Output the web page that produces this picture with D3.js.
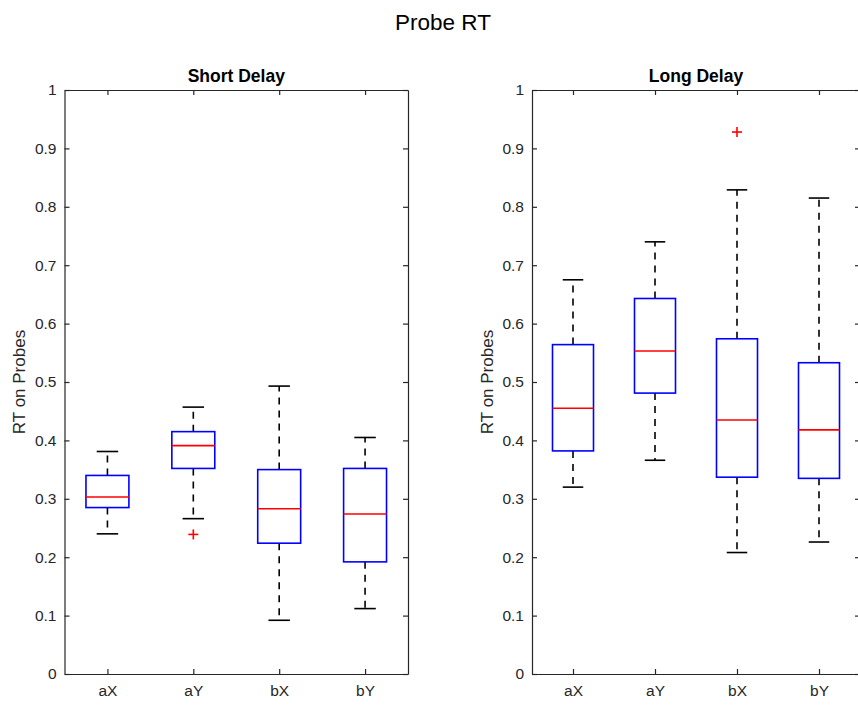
<!DOCTYPE html>
<html>
<head>
<meta charset="utf-8">
<script src="https://cdn.jsdelivr.net/npm/d3@7"></script>
<style>
  body { margin: 0; background: #fff; }
  svg text { font-family: "Liberation Sans", Arial, Helvetica, sans-serif; }
</style>
</head>
<body>
<div id="graphicContainer"></div>
<script>
// categories shared by both panels
var categories = ["aX", "aY", "bX", "bY"]

// Short Delay boxes
var shortLow = [0.240, 0.266, 0.092, 0.112]
var shortQ1 = [0.285, 0.352, 0.224, 0.192]
var shortMed = [0.303, 0.391, 0.283, 0.274]
var shortQ3 = [0.340, 0.415, 0.350, 0.352]
var shortHigh = [0.381, 0.457, 0.493, 0.405]
var shortOutliers = [["aY", 0.239]]

// Long Delay boxes
var longLow = [0.320, 0.366, 0.208, 0.226]
var longQ1 = [0.382, 0.481, 0.337, 0.335]
var longMed = [0.455, 0.553, 0.435, 0.418]
var longQ3 = [0.564, 0.643, 0.574, 0.533]
var longHigh = [0.675, 0.740, 0.829, 0.815]
var longOutliers = [["bX", 0.928]]

var yTicks = [0, 0.1, 0.2, 0.3, 0.4, 0.5, 0.6, 0.7, 0.8, 0.9, 1]

var width = 858
var height = 706
var axisColor = "#262626"

var svg = d3.select("#graphicContainer").append("svg")
  .attr("width", width)
  .attr("height", height)

svg.append("rect")
  .attr("width", width)
  .attr("height", height)
  .attr("fill", "#fff")

svg.append("text")
  .attr("x", 443)
  .attr("y", 30)
  .attr("text-anchor", "middle")
  .attr("font-size", 22.5)
  .attr("fill", "#000")
  .text("Probe RT")

var y = d3.scaleLinear()
  .domain([0, 1])
  .range([674, 90])

function drawPanel(left, right, title, lo, q1, med, q3, hi, outliers) {

  var x = d3.scalePoint()
    .domain(categories)
    .range([left, right])
    .padding(0.5)

  var step = x.step()
  var g = svg.append("g")

  var boxes = categories.map((c, i) => ({
    key: c, lo: lo[i], q1: q1[i], med: med[i], q3: q3[i], hi: hi[i]
  }))

  // axes (inward ticks on all four sides)
  g.append("g")
    .attr("transform", `translate(${left},0)`)
    .call(d3.axisLeft(y).tickValues(yTicks).tickSize(-5).tickSizeOuter(0).tickPadding(8).tickFormat(d3.format("~g")))

  g.append("g")
    .attr("transform", `translate(${right},0)`)
    .call(d3.axisRight(y).tickValues(yTicks).tickSize(-5).tickSizeOuter(0).tickFormat(""))

  g.append("g")
    .attr("transform", `translate(0,${y(1)})`)
    .call(d3.axisTop(x).tickSize(-5).tickSizeOuter(0).tickFormat(""))

  g.append("g")
    .attr("transform", `translate(0,${y(0)})`)
    .call(d3.axisBottom(x).tickSize(-5).tickSizeOuter(0).tickPadding(11))

  g.selectAll(".domain, .tick line")
    .attr("stroke", axisColor)
    .attr("stroke-width", 1.2)

  g.selectAll(".tick text")
    .attr("fill", axisColor)
    .attr("font-size", 15.5)
    .attr("font-family", "Liberation Sans, Arial, sans-serif")

  g.append("text")
    .attr("x", (left + right) / 2)
    .attr("y", 82)
    .attr("text-anchor", "middle")
    .attr("font-size", 17.5)
    .attr("font-weight", "bold")
    .attr("fill", "#000")
    .text(title)

  g.append("text")
    .attr("transform", `translate(${left - 39.5},${(y(0) + y(1)) / 2}) rotate(-90)`)
    .attr("text-anchor", "middle")
    .attr("font-size", 17)
    .attr("fill", axisColor)
    .text("RT on Probes")

  var bw = step * 0.5
  var cw = step * 0.25

  // whiskers
  g.selectAll(".whiskUp")
    .data(boxes)
    .enter()
    .append("line")
    .attr("x1", d => x(d.key))
    .attr("x2", d => x(d.key))
    .attr("y1", d => y(d.q3))
    .attr("y2", d => y(d.hi))
    .attr("stroke", "#000")
    .attr("stroke-width", 1.6)
    .attr("stroke-dasharray", "7,6")

  g.selectAll(".whiskDown")
    .data(boxes)
    .enter()
    .append("line")
    .attr("x1", d => x(d.key))
    .attr("x2", d => x(d.key))
    .attr("y1", d => y(d.q1))
    .attr("y2", d => y(d.lo))
    .attr("stroke", "#000")
    .attr("stroke-width", 1.6)
    .attr("stroke-dasharray", "7,6")

  // caps
  g.selectAll(".capHi")
    .data(boxes)
    .enter()
    .append("line")
    .attr("x1", d => x(d.key) - cw / 2)
    .attr("x2", d => x(d.key) + cw / 2)
    .attr("y1", d => y(d.hi))
    .attr("y2", d => y(d.hi))
    .attr("stroke", "#000")
    .attr("stroke-width", 1.6)

  g.selectAll(".capLo")
    .data(boxes)
    .enter()
    .append("line")
    .attr("x1", d => x(d.key) - cw / 2)
    .attr("x2", d => x(d.key) + cw / 2)
    .attr("y1", d => y(d.lo))
    .attr("y2", d => y(d.lo))
    .attr("stroke", "#000")
    .attr("stroke-width", 1.6)

  // boxes
  g.selectAll(".box")
    .data(boxes)
    .enter()
    .append("rect")
    .attr("x", d => x(d.key) - bw / 2)
    .attr("y", d => y(d.q3))
    .attr("width", bw)
    .attr("height", d => y(d.q1) - y(d.q3))
    .attr("fill", "none")
    .attr("stroke", "#0000ff")
    .attr("stroke-width", 1.6)

  // medians
  g.selectAll(".med")
    .data(boxes)
    .enter()
    .append("line")
    .attr("x1", d => x(d.key) - bw / 2)
    .attr("x2", d => x(d.key) + bw / 2)
    .attr("y1", d => y(d.med))
    .attr("y2", d => y(d.med))
    .attr("stroke", "#ff0000")
    .attr("stroke-width", 1.6)

  // outliers as '+'
  var plus = g.selectAll(".outlier")
    .data(outliers)
    .enter()
    .append("g")
    .attr("transform", d => `translate(${x(d[0])},${y(d[1])})`)

  plus.append("line")
    .attr("x1", -5).attr("x2", 5)
    .attr("stroke", "#ff0000").attr("stroke-width", 1.6)

  plus.append("line")
    .attr("y1", -5).attr("y2", 5)
    .attr("stroke", "#ff0000").attr("stroke-width", 1.6)
}

drawPanel(64.5, 408, "Short Delay", shortLow, shortQ1, shortMed, shortQ3, shortHigh, shortOutliers)
drawPanel(532, 860, "Long Delay", longLow, longQ1, longMed, longQ3, longHigh, longOutliers)
</script>
</body>
</html>
